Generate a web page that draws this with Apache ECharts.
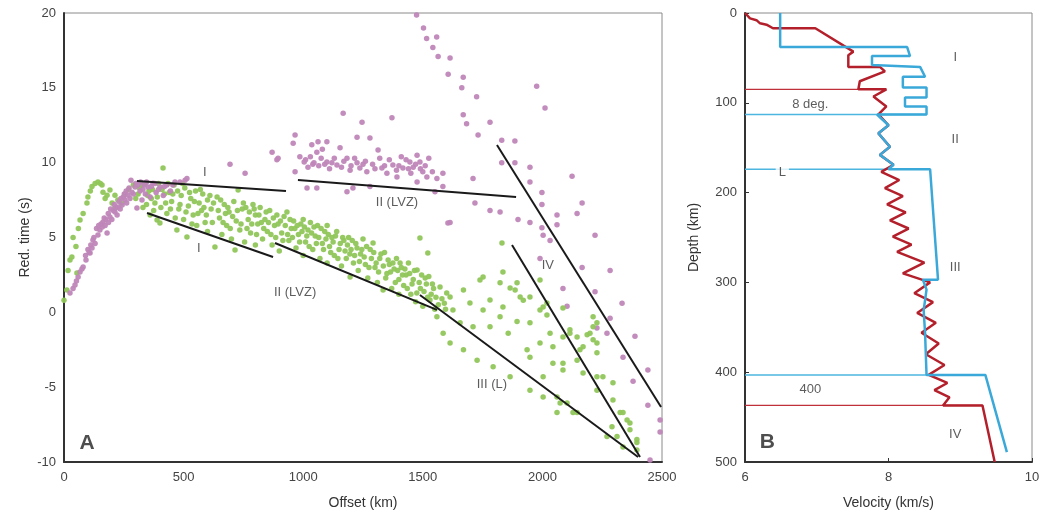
<!DOCTYPE html>
<html><head><meta charset="utf-8">
<script src="https://cdn.jsdelivr.net/npm/echarts@6/dist/echarts.min.js"></script>
<style>html,body{margin:0;padding:0;background:#fff}#c{width:1049px;height:522px}</style>
</head><body><div id="c"></div>
<script>
// ---------- Panel A: reduced travel time vs offset ----------
const offsetTicks = [0, 500, 1000, 1500, 2000, 2500];
const timeTicks = [-10, -5, 0, 5, 10, 15, 20];

const pinkNear = [[25,1.3],[38,1.6],[46,1.83],[52,2.1],[59,2.36],[67,2.7],[75,2.9],[80,3.03],[90,3.8],[92,3.5],[100,4.2],[105,4.0],[109,3.97],[112,4.5],[117,4.3],[121,4.83],[125,5.0],[130,4.6],[136,5.6],[142,5.17],[145,5.8],[150,5.5],[155,5.9],[160,5.7],[163,6.03],[168,6.3],[172,5.8],[175,6.2],[180,5.3],[185,6.6],[186,6.0],[192,6.37],[195,6.9],[200,6.2],[206,6.8],[210,7.2],[213,6.7],[218,7.0],[222,6.5],[226,7.03],[230,7.4],[235,6.9],[238,7.6],[243,7.17],[248,7.7],[252,7.9],[255,7.5],[260,8.1],[262,7.3],[268,7.83],[272,8.3],[276,7.6],[280,8.83],[284,8.03],[290,7.9],[297,8.37],[300,8.6],[305,6.97],[309,8.5],[318,8.1],[320,8.7],[326,7.5],[330,8.2],[335,8.5],[340,7.9],[345,8.7],[351,8.37],[360,7.7],[365,8.4],[372,8.63],[380,8.6],[385,8.0],[395,8.2],[401,8.37],[415,7.8],[420,8.4],[430,8.5],[445,8.1],[455,8.5],[464,8.7],[485,8.7],[506,8.83],[514,8.95]];

const pinkCloud = [[694,9.9],[757,9.3],[870,10.7],[890,10.2],[895,10.3],[958,11.3],[966,11.85],[966,9.4],[986,10.4],[1004,10.05],[1010,10.2],[1016,8.3],[1020,9.7],[1030,10.4],[1036,11.2],[1040,9.9],[1045,10.0],[1057,10.7],[1057,8.3],[1062,11.4],[1065,9.8],[1075,10.3],[1080,10.9],[1090,9.9],[1099,11.4],[1099,10.05],[1110,9.6],[1120,10.0],[1130,10.3],[1141,9.85],[1154,11],[1160,9.7],[1167,13.3],[1170,10.1],[1183,10.3],[1183,8.05],[1196,9.5],[1200,9.8],[1208,8.3],[1215,10.3],[1225,10],[1225,11.7],[1237,9.65],[1246,12.7],[1250,9.9],[1260,10.1],[1266,9.4],[1279,11.65],[1279,8.4],[1290,9.9],[1300,9.6],[1313,10.85],[1320,10.3],[1329,9.65],[1340,9.8],[1350,9.3],[1360,10.2],[1371,13],[1375,9.85],[1390,9.5],[1392,9.05],[1400,9.8],[1410,10.4],[1417,9.65],[1430,10.2],[1440,9.6],[1446,10.05],[1450,9.3],[1460,9.7],[1470,9.9],[1476,10.5],[1476,8.7],[1488,10.05],[1490,9.6],[1500,9.4],[1510,9.8],[1517,9.05],[1525,10.3],[1540,9.4],[1551,8.05],[1559,8.95],[1584,9.3],[1584,8.4],[1605,5.97],[1614,6.0],[1710,8.95],[1718,7.3],[1781,6.8],[1823,6.7],[1898,6.2],[1948,6.0],[1998,5.65],[2061,5.85],[2003,5.15],[2032,4.8],[2220,5.15]];

const pinkSteep = [[1474,19.87],[1503,19],[1516,18.3],[1558,18.4],[1542,17.7],[1564,17.1],[1614,17],[1606,15.9],[1669,15.7],[1663,15],[1725,14.4],[1669,13.2],[1683,12.6],[1731,11.85],[1781,12.7],[1976,15.1],[2011,13.65],[1830,11.5],[1885,11.45],[1830,10],[1885,10],[1948,9.7],[1948,8.7],[2124,9.1],[1998,8.0],[1998,7.2],[2166,7.3],[2145,6.6],[2061,6.5],[1990,3.6],[2166,3.0],[2283,2.8],[2086,1.6],[2220,1.37],[2103,0.4],[2333,0.6],[2283,-0.4],[2228,-1.05],[2270,-1.4],[2387,-1.6],[2337,-3.0],[2441,-3.85],[2379,-4.6],[2441,-6.2],[2492,-7.2],[2492,-8.0],[2450,-9.87]];

const greenNear = [[0,0.8],[12,1.5],[17,2.8],[25,3.5],[33,3.7],[38,5.0],[54,2.63],[50,4.4],[60,5.6],[67,6.17],[80,6.6],[96,7.3],[100,7.7],[110,8.1],[117,8.4],[130,8.6],[142,8.7],[152,8.6],[159,8.5],[163,8.03],[172,7.6],[180,7.83],[192,8.17],[201,7.3],[213,6.97],[213,7.83],[225,7.5],[240,7.3],[255,7.9],[270,8.2],[290,8.5]];

const greenMain = [[300,7.6],[315,8.3],[330,7.0],[340,8.6],[350,7.8],[360,6.5],[370,8.2],[380,7.3],[389,6.17],[395,8.6],[401,5.97],[405,7.0],[414,9.64],[420,7.9],[430,6.6],[440,8.0],[450,7.4],[460,8.5],[472,5.5],[480,6.9],[490,7.8],[500,6.2],[505,8.3],[514,5.03],[520,7.1],[530,7.6],[540,6.5],[550,8.1],[555,5.8],[565,7.3],[575,6.8],[580,7.9],[590,6.0],[600,7.5],[600,5.4],
[615,6.9],[631,4.37],[640,7.7],[650,6.3],[660,5.2],[670,7.2],[680,5.8],[690,6.7],[700,4.9],[710,7.4],[715,4.17],[720,6.1],[728,8.17],[735,5.5],[745,6.9],[755,4.7],[760,7.0],[770,6.2],[780,5.3],[790,7.2],[800,4.5],[800,6.5],
[810,5.9],[820,7.0],[830,4.9],[840,6.2],[850,5.4],[860,6.8],[870,4.5],[880,5.8],[890,6.5],[900,4.1],[910,5.3],[920,6.4],[932,6.7],[940,4.8],[950,5.6],[960,6.1],[970,4.3],[980,5.2],[990,5.9],[1000,3.8],[1000,6.2],
[1010,4.7],[1020,5.5],[1030,6.0],[1040,4.2],[1050,5.1],[1060,5.8],[1070,3.6],[1080,4.6],[1090,5.4],[1100,3.3],[1100,5.8],[1110,4.4],[1120,5.0],[1130,3.8],[1140,5.4],[1150,4.2],[1160,3.1],[1170,4.8],[1180,3.6],[1190,5.0],[1196,2.36],[1200,4.2],
[1210,3.3],[1220,4.6],[1230,2.8],[1240,3.9],[1250,4.9],[1260,3.2],[1270,2.3],[1280,4.2],[1292,4.63],[1300,3.0],[1310,2.0],[1320,3.6],[1334,1.5],[1340,4.0],[1350,2.6],[1360,3.2],[1370,1.6],[1380,2.9],[1390,3.6],[1400,2.2],[1400,1.2],
[1410,3.0],[1420,1.8],[1430,2.5],[1440,3.3],[1450,1.2],[1460,2.2],[1470,0.7],[1476,2.83],[1488,4.97],[1490,1.6],[1500,0.4],[1510,2.3],[1521,3.97],[1520,1.0],[1530,0.83],[1540,1.9],[1550,0.2],[1559,-0.3],[1572,1.7],[1585,-1.4],[1590,0.6],[1600,1.3],[1614,1.03],[1614,-2.05],[1626,0.16],
[310,7.9],[325,8.5],[345,7.2],[355,8.1],[365,7.6],[375,6.8],[390,7.7],[410,8.2],[425,7.3],[435,8.6],[445,6.9],[455,7.9],[465,6.3],[475,8.1],[485,7.2],[495,8.6],[510,6.7],[525,8.0],[535,5.9],[545,7.4],[560,6.6],[570,8.2],[585,7.0],[595,6.5],[610,7.8],[620,6.0],[625,7.3],[645,6.8],[655,7.5],[665,6.0],[675,6.6],[685,7.0],[695,5.6],[705,6.4],[725,6.8],[740,5.9],[750,7.3],[765,5.6],[775,6.7],[785,5.9],[795,6.9],[805,5.2],[815,6.5],[825,6.0],[835,5.6],[845,6.7],[855,6.0],[865,5.2],[875,6.3],[885,5.0],[895,5.9],[905,6.1],[915,4.8],[925,5.8],[935,5.2],[945,6.2],[955,5.0],[965,5.6],[975,5.8],[985,4.7],[995,5.4],[1005,5.7],[1015,5.1],[1025,4.4],[1035,5.3],[1045,5.7],[1055,4.6],[1065,5.0],[1075,5.6],[1085,4.2],[1095,4.9],[1105,5.2],[1115,4.0],[1125,4.7],[1135,5.1],[1145,3.6],[1155,4.6],[1165,5.0],[1175,4.1],[1185,4.5],[1195,3.9],[1205,4.8],[1215,3.8],[1225,4.3],[1235,3.4],[1245,4.2],[1255,3.7],[1265,4.4],[1275,3.0],[1285,3.6],[1295,4.0],[1305,3.3],[1315,2.7],[1325,3.9],[1335,3.1],[1345,2.3],[1355,3.5],[1365,2.7],[1375,3.3],[1385,2.0],[1395,2.8],[1405,3.3],[1415,2.5],[1425,2.9],[1435,1.6],[1445,2.6],[1455,1.9],[1465,2.8],[1475,1.3],[1485,2.0],[1495,2.5],[1505,1.4],[1515,1.9],[1525,2.4],[1535,1.2],[1545,1.6],[1555,1.0],[1565,0.5],[1580,0.9],[1595,0.2],
[1656,-0.7],[1670,1.5],[1670,-2.5],[1697,0.62],[1710,-0.97],[1727,-3.2],[1739,2.16],[1752,2.36],[1752,0.16],[1781,-0.97],[1781,0.83],[1794,-3.63],[1823,1.97],[1823,-0.3],[1831,4.63],[1835,2.7],[1835,0.36],[1857,-1.4],[1865,1.63],[1865,-4.3],[1886,1.5],[1894,-0.62],[1894,1.97],[1907,1.03],[1920,0.8],[1936,-2.5],[1948,1.03],[1948,-0.7],[1948,-3],[1948,-5.2],[1990,0.16],[1990,2.16],[1990,-2.05],[2003,0.36],[2003,-4.3],[2003,-5.65],[2019,0.62],[2019,-0.17],[2032,-1.4],[2044,-2.3],[2044,-3.4],[2061,-5.65],[2061,-6.7],[2074,-6.05],[2086,0.29],[2086,-1.65],[2086,-3.4],[2086,-3.85],[2103,-6.05],[2115,-1.17],[2115,-1.4],[2128,-6.7],[2145,-1.65],[2145,-3.2],[2145,-6.7],[2157,-2.5],[2170,-2.3],[2170,-4.05],[2187,-1.5],[2199,-1.4],[2212,-0.97],[2212,-1.83],[2212,-0.3],[2228,-0.7],[2228,-2.05],[2228,-2.7],[2228,-4.3],[2228,-5.2],[2253,-4.3],[2270,-8.3],[2291,-7.65],[2295,-4.7],[2295,-5.85],[2312,-8.3],[2325,-6.7],[2337,-6.7],[2337,-9.0],[2354,-7.2],[2366,-7.4],[2366,-7.85],[2395,-8.5],[2395,-8.7],[2395,-9.2]];

// travel-time branch fits
const lineP1 = [[305,8.78],[928,8.1]];
const lineP2 = [[978,8.84],[1890,7.71]];
const lineP4 = [[1810,11.18],[2496,-6.33]];
const lineG1 = [[347,6.64],[874,3.70]];
const lineG2 = [[882,4.63],[1559,0.16]];
const lineG3 = [[1488,1.16],[2400,-9.67]];
const lineG4 = [[1873,4.5],[2408,-9.67]];

const labelsA = [[589,9.38,'I'],[564,4.3,'I'],[1392,7.37,'II (LVZ)'],[966,1.3,'II (LVZ)'],[1789,-4.85,'III (L)'],[2023,3.16,'IV']];
const panelA = [[96,-8.73,'A']];

// ---------- Panel B: velocity vs depth ----------
const velTicks = [6, 8, 10];
const depthTicks = [0, 100, 200, 300, 400, 500];

const cyanProfile = [[6.49,0],[6.49,38],[8.26,38],[8.3,48],[7.77,48],[7.77,58],[8.44,60],[8.51,71],[8.2,71],[8.2,83],[8.53,83],[8.53,94],[8.23,94],[8.23,104],[8.53,104],[8.53,113],[7.84,113],[8.0,125],[7.86,134],[8.02,149],[7.88,158],[8.07,169],[8.0,174],[8.58,174],[8.69,297],[8.48,297],[8.53,308],[8.49,331],[8.51,357],[8.53,403],[9.35,403],[9.65,489]];

const redProfile = [[6.0,0],[6.07,6],[6.16,8],[6.21,11.5],[6.3,13],[6.39,17],[6.98,17],[7.51,43],[7.53,43],[7.44,47],[7.44,60],[7.88,60],[7.95,65],[7.6,76],[7.58,85],[7.97,85],[7.79,93],[7.97,104],[7.86,113],[8.0,125],[7.86,134],[8.02,149],[7.88,158],[8.07,169],[7.9,177],[8.15,186],[7.95,195],[8.2,204],[7.98,213],[8.24,222],[8.02,231],[8.28,240],[8.06,249],[8.32,258],[8.12,266],[8.5,278],[8.2,290],[8.58,300],[8.36,312],[8.62,322],[8.4,334],[8.66,345],[8.46,356],[8.7,368],[8.52,380],[8.78,392],[8.56,403],[8.82,412],[8.64,420],[8.85,428],[8.76,437],[9.31,437],[9.48,500]];

const redHLines = [[85, 6, 7.97], [437, 6, 9.31]];
const cyanHLines = [[113, 6, 8.53], [174, 6, 8.58], [403, 6, 9.35]];

const labelsB = [[8.93,50,'I'],[8.93,141,'II'],[8.93,283,'III'],[8.93,469,'IV'],[6.91,102,'8 deg.'],[6.91,419,'400']];
const labelsBBox = [[6.52,177,'L']];
const panelB = [[6.31,478,'B']];

// ---------- build ----------
const FONT = 'Liberation Sans, Arial, Helvetica, sans-serif';
const PINK = '#bf86b8', GREEN = '#90c65a', RED = '#b3202b', CYAN = '#3aa9d9';

function scatter(data, color, xi, yi) {
  return {type:'scatter', xAxisIndex:xi, yAxisIndex:yi, data, symbolSize:5.5,
    itemStyle:{color, opacity:0.95}, silent:true, z:2};
}
function line(data, color, width, xi, yi, z) {
  return {type:'line', xAxisIndex:xi, yAxisIndex:yi, data, symbol:'none', silent:true,
    lineStyle:{color, width}, z:z||5, animation:false};
}
function textSeries(list, xi, yi, style) {
  return {type:'scatter', xAxisIndex:xi, yAxisIndex:yi, symbolSize:1, silent:true, z:10,
    itemStyle:{color:'rgba(0,0,0,0)'},
    data: list.map(l => ({value:[l[0], l[1]], label:{formatter:l[2]}})),
    label:Object.assign({show:true, position:'inside', color:'#333', fontSize:13, fontFamily:FONT}, style||{})};
}

const series = [
  scatter(pinkCloud, PINK, 0, 0),
  scatter(pinkSteep, PINK, 0, 0),
  scatter(greenMain, GREEN, 0, 0),
  scatter(greenNear, GREEN, 0, 0),
  scatter(pinkNear, PINK, 0, 0),
  line(lineP1, '#1a1a1a', 2, 0, 0), line(lineP2, '#1a1a1a', 2, 0, 0), line(lineP4, '#1a1a1a', 2, 0, 0),
  line(lineG1, '#1a1a1a', 2, 0, 0), line(lineG2, '#1a1a1a', 2, 0, 0), line(lineG3, '#1a1a1a', 2, 0, 0), line(lineG4, '#1a1a1a', 2, 0, 0),
  textSeries(labelsA, 0, 0),
  textSeries(panelA, 0, 0, {fontSize:21, fontWeight:'bold', color:'#222'}),
];
redHLines.forEach(h => series.push(line([[h[1],h[0]],[h[2],h[0]]], '#c0303a', 1.2, 1, 1, 3)));
cyanHLines.forEach(h => series.push(line([[h[1],h[0]],[h[2],h[0]]], '#4cb6e0', 1.5, 1, 1, 3)));
series.push(line(redProfile, RED, 2.5, 1, 1, 4));
series.push(line(cyanProfile, CYAN, 2.5, 1, 1, 5));
series.push(textSeries(labelsB, 1, 1));
series.push(textSeries(labelsBBox, 1, 1, {backgroundColor:'#fff', padding:[0,3]}));
series.push(textSeries(panelB, 1, 1, {fontSize:21, fontWeight:'bold', color:'#222'}));

const axisLabel = {color:'#444', fontSize:13, fontFamily:FONT, formatter: v => String(v)};
const nameStyle = {color:'#333', fontSize:14, fontFamily:FONT};

const option = {
  animation:false,
  backgroundColor:'#fff',
  grid:[
    {left:64, top:13, width:598, height:449, show:true, borderColor:'#8a8a8a', borderWidth:1, backgroundColor:'transparent'},
    {left:745, top:13, width:287, height:449, show:true, borderColor:'#8a8a8a', borderWidth:1, backgroundColor:'transparent'}
  ],
  xAxis:[
    {type:'value', gridIndex:0, position:'bottom', min:offsetTicks[0], max:offsetTicks[offsetTicks.length-1], interval:500,
     name:'Offset (km)', nameLocation:'middle', nameGap:34, nameTextStyle:nameStyle,
     axisLine:{onZero:false, lineStyle:{color:'#333', width:2}}, axisTick:{show:false}, splitLine:{show:false},
     axisLabel:Object.assign({margin:9, showMinLabel:true, showMaxLabel:true}, axisLabel)},
    {type:'value', gridIndex:1, position:'bottom', min:velTicks[0], max:velTicks[velTicks.length-1], interval:2,
     name:'Velocity (km/s)', nameLocation:'middle', nameGap:34, nameTextStyle:nameStyle,
     axisLine:{onZero:false, lineStyle:{color:'#333', width:2}}, axisTick:{show:true, inside:true, length:4, lineStyle:{color:'#333'}}, splitLine:{show:false},
     axisLabel:Object.assign({margin:9, showMinLabel:true, showMaxLabel:true}, axisLabel)}
  ],
  yAxis:[
    {type:'value', gridIndex:0, position:'left', min:timeTicks[0], max:timeTicks[timeTicks.length-1], interval:5,
     name:'Red. time (s)', nameLocation:'middle', nameGap:32, nameMoveOverlap:false, nameTextStyle:nameStyle,
     axisLine:{onZero:false, lineStyle:{color:'#333', width:2}}, axisTick:{show:false}, splitLine:{show:false},
     axisLabel:Object.assign({margin:8}, axisLabel)},
    {type:'value', gridIndex:1, position:'left', min:depthTicks[0], max:depthTicks[depthTicks.length-1], interval:100, inverse:true,
     name:'Depth (km)', nameLocation:'middle', nameGap:44, nameMoveOverlap:false, nameTextStyle:nameStyle,
     axisLine:{onZero:false, lineStyle:{color:'#333', width:2}}, axisTick:{show:true, inside:true, length:4, lineStyle:{color:'#333'}}, splitLine:{show:false},
     axisLabel:Object.assign({margin:8}, axisLabel)}
  ],
  series
};
const chart = echarts.init(document.getElementById('c'), null, {renderer:'canvas'});
chart.setOption(option);
</script></body></html>
